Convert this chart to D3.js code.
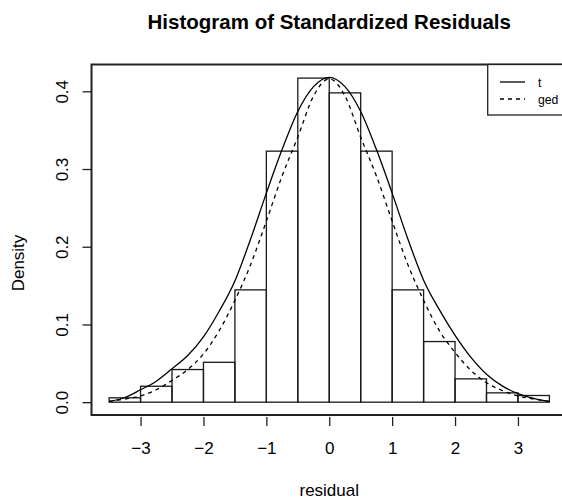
<!DOCTYPE html>
<html>
<head>
<meta charset="utf-8">
<script src="https://cdn.jsdelivr.net/npm/d3@7"></script>
<style>
  body { margin: 0; background: #fff; }
  text { font-family: "Liberation Sans", Arial, Helvetica, sans-serif; fill: #000; }
</style>
</head>
<body>
<div id="chart"></div>
<script>
const width = 562, height = 500;

// histogram bins (density scale)
const breaks = [-3.5, -3, -2.5, -2, -1.5, -1, -0.5, 0, 0.5, 1, 1.5, 2, 2.5, 3, 3.5];
const density = [0.0056, 0.0205, 0.042, 0.0513, 0.1445, 0.323, 0.417, 0.398, 0.323, 0.1445, 0.078, 0.030, 0.012, 0.0086];

// fitted density curves
const curveX = [-3.5, -3.25, -3, -2.75, -2.5, -2.25, -2, -1.75, -1.5, -1.25, -1, -0.75, -0.5, -0.25, 0,
  0.25, 0.5, 0.75, 1, 1.25, 1.5, 1.75, 2, 2.25, 2.5, 2.75, 3, 3.25, 3.5];
const tDens = [0.001, 0.006, 0.016, 0.027, 0.043, 0.060, 0.084, 0.117, 0.156, 0.210, 0.269, 0.325, 0.374, 0.406, 0.418,
  0.406, 0.374, 0.325, 0.269, 0.210, 0.157, 0.119, 0.086, 0.058, 0.036, 0.021, 0.011, 0.005, 0.001];
const gedDens = [0.001, 0.004, 0.008, 0.016, 0.028, 0.042, 0.062, 0.092, 0.131, 0.177, 0.233, 0.291, 0.341, 0.394, 0.416,
  0.394, 0.341, 0.291, 0.233, 0.177, 0.131, 0.092, 0.064, 0.041, 0.025, 0.015, 0.008, 0.004, 0.001];

const xTicks = [-3, -2, -1, 0, 1, 2, 3];
const yTicks = [0, 0.1, 0.2, 0.3, 0.4];
const legendLabels = ["t", "ged"];

const box = { left: 91.5, right: 567, top: 64.5, bottom: 415 };

const x = d3.scaleLinear().domain([-3.78, 3.78]).range([box.left, box.right]);
const y = d3.scaleLinear().domain([-0.0165, 0.4345]).range([box.bottom, box.top]);

const svg = d3.select("#chart").append("svg")
  .attr("width", width)
  .attr("height", height);

// bars
const bins = density.map((d, i) => ({ x0: breaks[i], x1: breaks[i + 1], d: d }));
svg.append("g")
  .selectAll("rect")
  .data(bins)
  .join("rect")
  .attr("x", b => x(b.x0))
  .attr("y", b => y(b.d))
  .attr("width", b => x(b.x1) - x(b.x0))
  .attr("height", b => y(0) - y(b.d))
  .attr("fill", "none")
  .attr("stroke", "#1a1a1a")
  .attr("stroke-width", 1.3);

// curves
const line = d3.line()
  .x((d, i) => x(curveX[i]))
  .y(d => y(d))
  .curve(d3.curveMonotoneX);

svg.append("path")
  .datum(tDens)
  .attr("d", line)
  .attr("fill", "none")
  .attr("stroke", "#000")
  .attr("stroke-width", 1.3);

svg.append("path")
  .datum(gedDens)
  .attr("d", line)
  .attr("fill", "none")
  .attr("stroke", "#000")
  .attr("stroke-width", 1.3)
  .attr("stroke-dasharray", "4,4");

// frame
svg.append("rect")
  .attr("x", box.left)
  .attr("y", box.top)
  .attr("width", box.right - box.left)
  .attr("height", box.bottom - box.top)
  .attr("fill", "none")
  .attr("stroke", "#222")
  .attr("stroke-width", 2);

// x axis
const xAxis = svg.append("g")
  .attr("transform", `translate(0,${box.bottom + 2})`)
  .call(d3.axisBottom(x).tickValues(xTicks).tickSizeInner(9).tickSizeOuter(0));
xAxis.select(".domain").remove();
xAxis.selectAll("line").attr("stroke", "#222").attr("stroke-width", 1.3);
xAxis.selectAll("text")
  .attr("font-size", 17)
  .attr("font-family", "Liberation Sans, Arial, sans-serif")
  .attr("dy", null)
  .attr("y", 37)
  .attr("fill", "#000");

// y axis
const yAxis = svg.append("g")
  .attr("transform", `translate(${box.left},0)`)
  .call(d3.axisLeft(y).tickValues(yTicks).tickSizeInner(9).tickSizeOuter(0).tickFormat(d3.format(".1f")));
yAxis.select(".domain").remove();
yAxis.selectAll("line").attr("stroke", "#222").attr("stroke-width", 1.3);
yAxis.selectAll("text")
  .attr("font-size", 17)
  .attr("font-family", "Liberation Sans, Arial, sans-serif")
  .attr("fill", "#000")
  .attr("text-anchor", "middle")
  .attr("x", null)
  .attr("dy", null)
  .attr("transform", "translate(-24,0) rotate(-90)");

// titles
svg.append("text")
  .attr("x", x(0))
  .attr("y", 29)
  .attr("text-anchor", "middle")
  .attr("font-size", 20.5)
  .attr("font-weight", "bold")
  .text("Histogram of Standardized Residuals");

svg.append("text")
  .attr("x", x(0))
  .attr("y", 496)
  .attr("text-anchor", "middle")
  .attr("font-size", 17)
  .text("residual");

svg.append("text")
  .attr("transform", "translate(24,263) rotate(-90)")
  .attr("text-anchor", "middle")
  .attr("font-size", 17)
  .text("Density");

// legend
const legend = svg.append("g");
legend.append("rect")
  .attr("x", 487.7)
  .attr("y", box.top)
  .attr("width", box.right - 487.7)
  .attr("height", 115 - box.top)
  .attr("fill", "#fff")
  .attr("stroke", "#222")
  .attr("stroke-width", 1.3);

legendLabels.forEach((lab, i) => {
  const ly = 82 + i * 17;
  legend.append("line")
    .attr("x1", 500).attr("x2", 525)
    .attr("y1", ly).attr("y2", ly)
    .attr("stroke", "#000")
    .attr("stroke-width", 1.3)
    .attr("stroke-dasharray", i === 1 ? "4,4" : null);
  legend.append("text")
    .attr("x", 538)
    .attr("y", ly + 4.5)
    .attr("font-size", 12.2)
    .text(lab);
});
</script>
</body>
</html>
